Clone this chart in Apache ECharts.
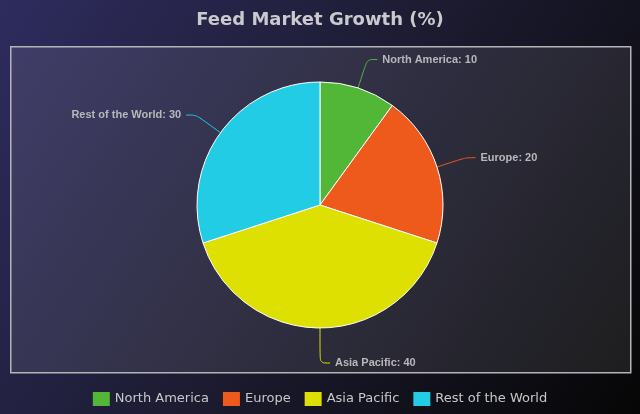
<!DOCTYPE html>
<html>
<head>
<meta charset="utf-8">
<script src="https://cdn.jsdelivr.net/npm/echarts@6/dist/echarts.min.js"></script>
<style>
html,body{margin:0;padding:0;background:#000;}
#c{width:640px;height:414px;}
</style>
</head>
<body>
<div id="c"></div>
<script>
const categories = ['North America', 'Europe', 'Asia Pacific', 'Rest of the World'];
const values = [10, 20, 40, 30];
const colors = ['#52b736', '#ee5a1c', '#dde000', '#22cce4'];
const titleText = 'Feed Market Growth (%)';

const chart = echarts.init(document.getElementById('c'), null, {renderer: 'canvas'});
chart.setOption({
  backgroundColor: {
    type: 'linear', x: 0, y: 0, x2: 1, y2: 1,
    colorStops: [{offset: 0, color: '#2e2c5e'}, {offset: 0.5, color: '#1c1b30'}, {offset: 1, color: '#060606'}]
  },
  title: {
    text: titleText, left: 'center', top: 6,
    textStyle: {color: '#cacace', fontFamily: 'DejaVu Sans', fontWeight: 'bold', fontSize: 18}
  },
  graphic: [{
    type: 'rect', left: 10, top: 46, z: -1,
    shape: {width: 620, height: 326},
    style: {fill: 'rgba(255,255,255,0.09)', stroke: '#b4b4b8', lineWidth: 1.5}
  }],
  legend: {
    bottom: 3, left: 'center', itemWidth: 17, itemHeight: 14, itemGap: 14,
    icon: 'rect',
    itemStyle: {borderWidth: 0},
    textStyle: {color: '#c8c8c8', fontFamily: 'DejaVu Sans', fontSize: 13},
    data: categories
  },
  color: colors,
  series: [{
    type: 'pie',
    center: [320, 205], radius: 123,
    startAngle: 90, clockwise: true,
    itemStyle: {borderColor: '#ffffff', borderWidth: 1},
    label: {
      show: true, formatter: '{b}: {c}', color: '#b8b8bc',
      fontFamily: 'Liberation Sans', fontWeight: 'bold', fontSize: 11
    },
    labelLine: {length: 30, length2: 10, smooth: true, lineStyle: {width: 1}},
    emphasis: {disabled: true},
    data: categories.map((n, i) => {
      const d = {name: n, value: values[i]};
      if (n === 'Asia Pacific') d.labelLine = {length: 35};
      return d;
    })
  }]
});
</script>
</body>
</html>
